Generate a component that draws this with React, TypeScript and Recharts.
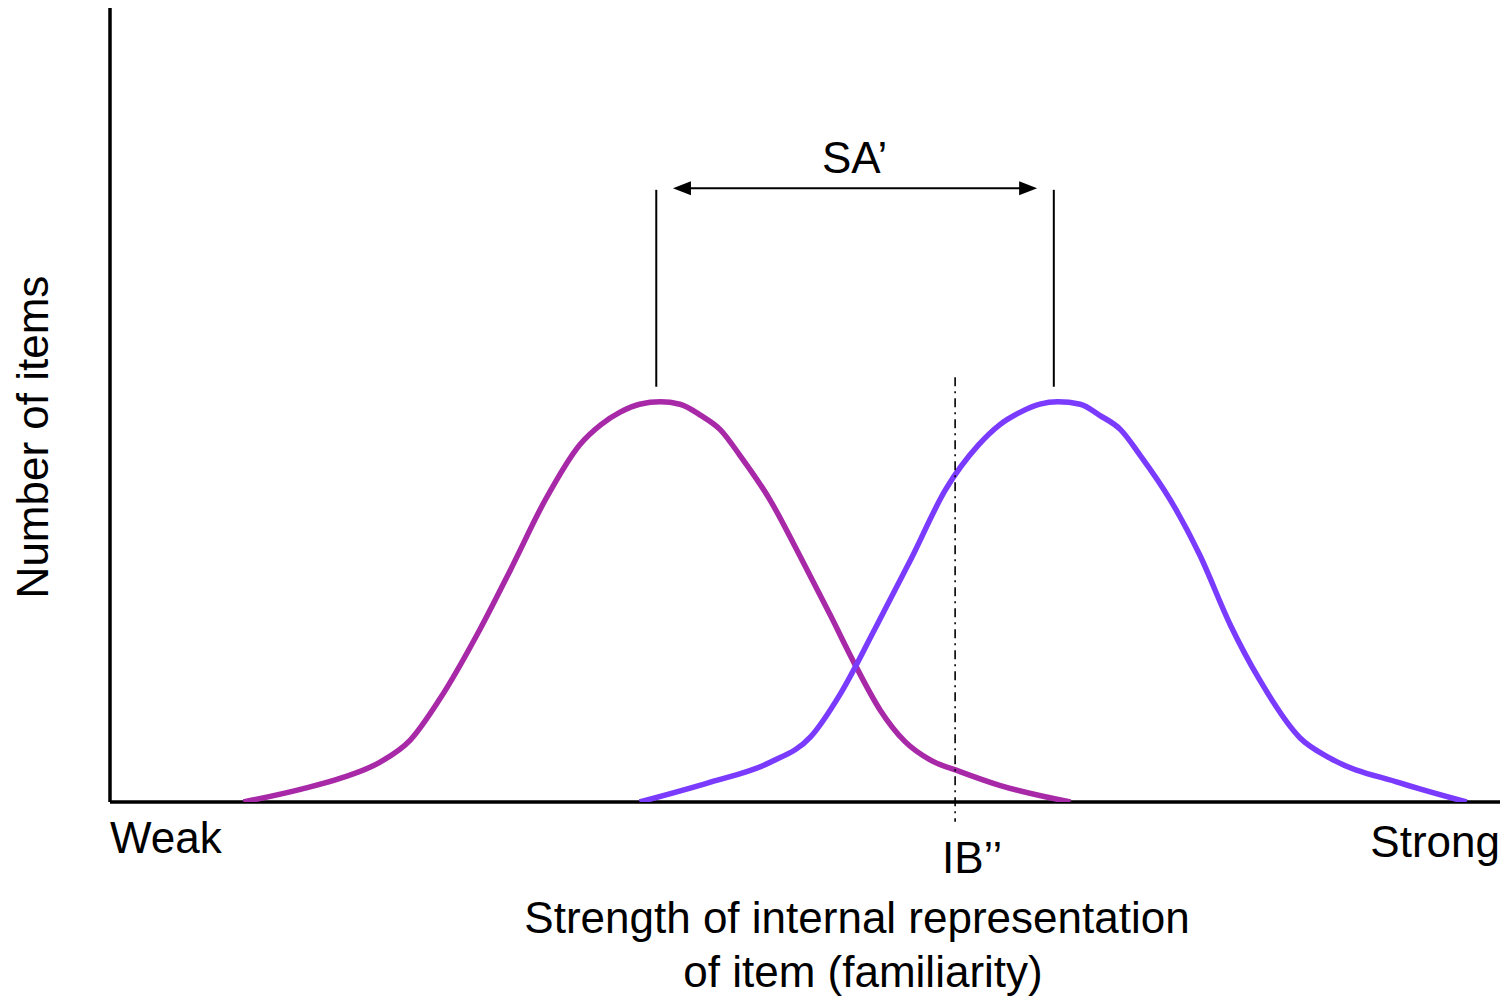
import React from "react";
import { LineChart, Line, XAxis, YAxis, ReferenceLine } from "recharts";

// strength (0-100) vs number of items (0-100)
const newItems = [
  { x: 9.6, y: 0 }, { x: 13.7, y: 1.6 }, { x: 16.6, y: 3.0 }, { x: 19.4, y: 5.0 },
  { x: 21.6, y: 7.8 }, { x: 23.7, y: 12.9 }, { x: 26.6, y: 21.7 }, { x: 28.8, y: 29.2 },
  { x: 31.3, y: 38.0 }, { x: 33.8, y: 45.0 }, { x: 35.3, y: 47.5 }, { x: 36.7, y: 49.1 },
  { x: 38.1, y: 50.1 }, { x: 39.6, y: 50.4 }, { x: 41.0, y: 50.1 }, { x: 42.5, y: 48.7 },
  { x: 43.9, y: 46.9 }, { x: 45.3, y: 43.7 }, { x: 47.5, y: 38.0 }, { x: 49.6, y: 31.1 },
  { x: 51.8, y: 23.6 }, { x: 53.6, y: 17.3 }, { x: 55.4, y: 11.6 }, { x: 57.2, y: 7.6 },
  { x: 59.0, y: 5.3 }, { x: 61.2, y: 3.8 }, { x: 64.0, y: 2.1 }, { x: 69.1, y: 0 },
];

const oldItems = [
  { x: 38.1, y: 0 }, { x: 43.2, y: 2.5 }, { x: 47.5, y: 5.0 },
  { x: 50.4, y: 8.2 }, { x: 52.5, y: 13.5 }, { x: 55.0, y: 21.7 }, { x: 57.6, y: 30.5 },
  { x: 60.1, y: 39.3 }, { x: 62.5, y: 45.0 }, { x: 64.0, y: 47.5 }, { x: 65.5, y: 49.1 },
  { x: 66.9, y: 50.1 }, { x: 68.2, y: 50.4 }, { x: 69.8, y: 50.1 }, { x: 71.2, y: 48.7 },
  { x: 72.7, y: 46.9 }, { x: 74.1, y: 43.7 }, { x: 76.3, y: 38.0 }, { x: 78.4, y: 31.1 },
  { x: 80.6, y: 22.3 }, { x: 82.7, y: 15.4 }, { x: 85.6, y: 8.1 }, { x: 87.8, y: 5.5 },
  { x: 92.8, y: 2.4 }, { x: 97.6, y: 0 },
];

const peakNew = 39.3;
const peakOld = 67.9;
const criterion = 60.8;
const markerBottom = 52.3;
const markerTop = 77.1;
const arrowY = 77.3;
const arrowFrom = 40.5;
const arrowTo = 66.7;

const font = "'Liberation Sans', Arial, sans-serif";

function DoubleArrow(props: any) {
  const { x1, y1, x2, y2 } = props;
  const h = 18;
  const w = 7;
  return (
    <g>
      <line x1={x1 + h - 2} y1={y1} x2={x2 - h + 2} y2={y2} stroke="#000" strokeWidth={2} />
      <polygon points={`${x1},${y1} ${x1 + h},${y1 - w} ${x1 + h},${y1 + w}`} fill="#000" />
      <polygon points={`${x2},${y2} ${x2 - h},${y2 - w} ${x2 - h},${y2 + w}`} fill="#000" />
    </g>
  );
}

const txt: React.CSSProperties = {
  position: "absolute",
  fontFamily: font,
  fontSize: 44,
  lineHeight: "44px",
  color: "#000",
  whiteSpace: "nowrap",
};

export default function App() {
  return (
    <div style={{ position: "absolute", left: 0, top: 0, width: 1506, height: 1001, background: "#fff" }}>
      <LineChart
        width={1506}
        height={1001}
        margin={{ top: 8, right: 6, bottom: 199, left: 110 }}
      >
        <XAxis type="number" dataKey="x" domain={[0, 100]} allowDataOverflow hide />
        <YAxis type="number" domain={[0, 100]} allowDataOverflow hide />
        {/* axes */}
        <ReferenceLine
          segment={[{ x: 0, y: 0 }, { x: 100, y: 0 }]}
          ifOverflow="visible"
          stroke="#000"
          strokeWidth={3.5}
        />
        <ReferenceLine
          segment={[{ x: 0, y: 0 }, { x: 0, y: 100 }]}
          ifOverflow="visible"
          stroke="#000"
          strokeWidth={3.5}
        />
        <Line
          data={newItems}
          dataKey="y"
          type="monotone"
          stroke="#A829A8"
          strokeWidth={5.5}
          dot={false}
          isAnimationActive={false}
        />
        <Line
          data={oldItems}
          dataKey="y"
          type="monotone"
          stroke="#7A3BFF"
          strokeWidth={5.5}
          dot={false}
          isAnimationActive={false}
        />
        <ReferenceLine
          segment={[{ x: peakNew, y: markerBottom }, { x: peakNew, y: markerTop }]}
          stroke="#000"
          strokeWidth={2}
        />
        <ReferenceLine
          segment={[{ x: peakOld, y: markerBottom }, { x: peakOld, y: markerTop }]}
          stroke="#000"
          strokeWidth={2}
        />
        <ReferenceLine
          segment={[{ x: arrowFrom, y: arrowY }, { x: arrowTo, y: arrowY }]}
          shape={DoubleArrow}
        />
        <ReferenceLine
          segment={[{ x: criterion, y: 53.5 }, { x: criterion, y: -2.5 }]}
          ifOverflow="visible"
          stroke="#000"
          strokeWidth={1.6}
          strokeDasharray="9 5 2 5"
        />
      </LineChart>

      <div style={{ ...txt, left: 822, top: 136 }}>SA’</div>
      <div style={{ ...txt, left: 110, top: 816 }}>Weak</div>
      <div style={{ ...txt, right: 6, top: 820 }}>Strong</div>
      <div style={{ ...txt, left: 942, top: 836 }}>IB’’</div>
      <div style={{ ...txt, left: 0, width: 1714, textAlign: "center", top: 896 }}>
        Strength of internal representation
      </div>
      <div style={{ ...txt, left: 0, width: 1726, textAlign: "center", top: 950 }}>
        of item (familiarity)
      </div>
      <div
        style={{
          ...txt,
          left: 33 - 200,
          top: 437 - 22,
          width: 400,
          textAlign: "center",
          transform: "rotate(-90deg)",
        }}
      >
        Number of items
      </div>
    </div>
  );
}
